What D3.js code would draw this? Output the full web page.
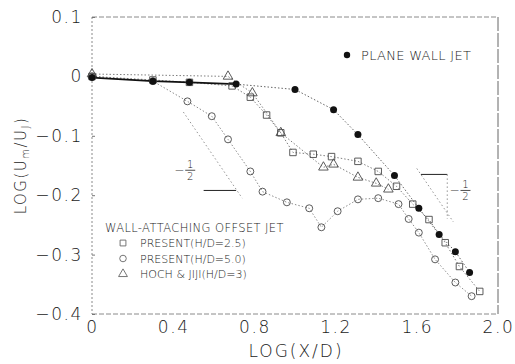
<!DOCTYPE html>
<html>
<head>
<meta charset="utf-8">
<script src="https://cdn.jsdelivr.net/npm/d3@7/dist/d3.min.js"></script>
<style>
  html, body { margin: 0; padding: 0; background: #fff; }
  svg { display: block; }
  text { font-family: "DejaVu Sans", sans-serif; fill: #1a1a1a; }
</style>
</head>
<body>
<svg id="chart" width="515" height="364"></svg>
<script>
// Centreline velocity decay, log-log coordinates
const xTicks = [0, 0.4, 0.8, 1.2, 1.6, 2.0];
const yTicks = [0.1, 0, -0.1, -0.2, -0.3, -0.4];

// Plane wall jet (filled circles)
const planeX = [0, 0.30, 0.48, 0.71, 1.00, 1.19, 1.31, 1.49, 1.61, 1.71, 1.79, 1.86];
const planeY = [-0.002, -0.008, -0.010, -0.013, -0.022, -0.056, -0.098, -0.167, -0.222, -0.266, -0.295, -0.330];

// Wall-attaching offset jet, present data H/D = 2.5 (squares)
const h25X = [0, 0.30, 0.48, 0.69, 0.78, 0.86, 0.93, 0.99, 1.09, 1.18, 1.31, 1.41, 1.50, 1.58, 1.66, 1.74, 1.81, 1.91];
const h25Y = [0, -0.006, -0.010, -0.016, -0.035, -0.065, -0.095, -0.128, -0.131, -0.135, -0.143, -0.160, -0.185, -0.215, -0.241, -0.280, -0.320, -0.362];

// Present data H/D = 5.0 (circles)
const h50X = [0, 0.30, 0.47, 0.59, 0.67, 0.78, 0.84, 0.96, 1.07, 1.13, 1.21, 1.31, 1.41, 1.51, 1.56, 1.61, 1.69, 1.79, 1.87];
const h50Y = [0, -0.008, -0.042, -0.067, -0.106, -0.160, -0.194, -0.212, -0.222, -0.254, -0.227, -0.207, -0.205, -0.215, -0.240, -0.263, -0.308, -0.347, -0.370];

// Hoch & Jiji, H/D = 3 (triangles)
const hjX = [0, 0.67, 0.79, 0.93, 1.14, 1.19, 1.31, 1.40, 1.46];
const hjY = [0.004, 0.0, -0.028, -0.095, -0.153, -0.148, -0.170, -0.180, -0.190];

// Slope -1/2 reference triangles (data units)
const slopeLeft = { hyp: [[0.45, -0.06], [0.74, -0.205]], leg: [[0.55, -0.192], [0.71, -0.192]], label: [0.474, -0.158] };
const slopeRight = { hyp: [[1.60, -0.155], [1.78, -0.245]], leg: [[1.62, -0.165], [1.75, -0.165]], vert: [[1.75, -0.165], [1.75, -0.24]], label: [1.83, -0.192] };

const legendItems = ["PRESENT(H/D=2.5)", "PRESENT(H/D=5.0)", "HOCH & JIJI(H/D=3)"];
const legendShapes = [d3.symbolSquare, d3.symbolCircle, d3.symbolTriangle];

const svg = d3.select("#chart");
const x = d3.scaleLinear().domain([0, 2]).range([92, 498]);
const y = d3.scaleLinear().domain([-0.4, 0.1]).range([314, 17]);

const zip = (xs, ys) => xs.map((v, i) => [v, ys[i]]);

// Frame
const frame = svg.append("g").attr("fill", "none");
frame.append("line").attr("x1", x(0)).attr("x2", x(2)).attr("y1", y(0.1)).attr("y2", y(0.1))
  .attr("stroke", "#8a8a8a").attr("stroke-dasharray", "5,2");
frame.append("line").attr("x1", x(0)).attr("x2", x(2)).attr("y1", y(-0.4)).attr("y2", y(-0.4))
  .attr("stroke", "#8a8a8a").attr("stroke-dasharray", "5,2");
frame.append("line").attr("x1", x(0)).attr("x2", x(0)).attr("y1", y(0.1)).attr("y2", y(-0.4))
  .attr("stroke", "#8a8a8a").attr("stroke-dasharray", "2,2");
frame.append("line").attr("x1", x(2)).attr("x2", x(2)).attr("y1", y(0.1)).attr("y2", y(-0.4))
  .attr("stroke", "#666").attr("stroke-dasharray", "14,2");

// Axes
const xAxis = svg.append("g").attr("transform", `translate(0,${y(-0.4)})`)
  .call(d3.axisBottom(x).tickValues(xTicks).tickSize(0).tickPadding(7)
    .tickFormat(d => d === 0 ? "0" : d3.format(".1f")(d)));
const yAxis = svg.append("g").attr("transform", `translate(${x(0)},0)`)
  .call(d3.axisLeft(y).tickValues(yTicks).tickSize(-3).tickPadding(9)
    .tickFormat(d => d === 0 ? "0" : d3.format(".1f")(d).replace("-", "\u2212")));
[xAxis, yAxis].forEach(g => {
  g.select(".domain").remove();
  g.selectAll(".tick line").attr("stroke", "#777");
  g.selectAll(".tick text").attr("font-size", 17).attr("letter-spacing", 1.6)
    .attr("font-family", "DejaVu Sans, sans-serif").attr("font-weight", 200).attr("fill", "#1a1a1a");
});

// Axis titles
svg.append("text").attr("x", 296).attr("y", 357).attr("text-anchor", "middle")
  .attr("font-size", 17).attr("font-weight", 200).attr("letter-spacing", 2).text("LOG(X/D)");
const yt = svg.append("text").attr("transform", `translate(26,${(y(0.1) + y(-0.4)) / 2}) rotate(-90)`)
  .attr("text-anchor", "middle").attr("font-size", 15).attr("font-weight", 200).attr("letter-spacing", 1.5);
yt.append("tspan").text("LOG(U");
yt.append("tspan").attr("font-size", 10).attr("dy", 3).text("m");
yt.append("tspan").attr("dy", -3).text("/U");
yt.append("tspan").attr("font-size", 10).attr("dy", 3).text("J");
yt.append("tspan").attr("dy", -3).text(")");

// Connecting lines
const line = d3.line().x(d => x(d[0])).y(d => y(d[1]));
const dotted = (pts, color) => svg.append("path").datum(pts).attr("d", line)
  .attr("fill", "none").attr("stroke", color).attr("stroke-width", 0.9).attr("stroke-dasharray", "1.5,2");

dotted(zip(h25X, h25Y), "#707070");
dotted(zip(h50X, h50Y), "#808080");
dotted(zip(hjX, hjY), "#707070");
const plane = zip(planeX, planeY);
svg.append("path").datum(plane.slice(0, 4)).attr("d", line)
  .attr("fill", "none").attr("stroke", "#111").attr("stroke-width", 1.6);
dotted(plane.slice(3), "#555");

// Slope annotations
function slopeMark(s) {
  svg.append("path").datum(s.hyp).attr("d", line).attr("fill", "none")
    .attr("stroke", "#888").attr("stroke-width", 0.9).attr("stroke-dasharray", "1.5,2.5");
  svg.append("path").datum(s.leg).attr("d", line).attr("fill", "none")
    .attr("stroke", "#222").attr("stroke-width", 1);
  if (s.vert) svg.append("path").datum(s.vert).attr("d", line).attr("fill", "none")
    .attr("stroke", "#888").attr("stroke-width", 0.9).attr("stroke-dasharray", "1.5,2.5");
  const lx = x(s.label[0]), ly = y(s.label[1]);
  svg.append("text").attr("x", lx - 9).attr("y", ly + 4).attr("font-size", 12)
    .attr("font-weight", 200).attr("text-anchor", "middle").text("\u2212");
  svg.append("text").attr("x", lx + 2).attr("y", ly - 2).attr("font-size", 10)
    .attr("font-weight", 200).attr("text-anchor", "middle").text("1");
  svg.append("line").attr("x1", lx - 3).attr("x2", lx + 7).attr("y1", ly).attr("y2", ly)
    .attr("stroke", "#222").attr("stroke-width", 0.8);
  svg.append("text").attr("x", lx + 2).attr("y", ly + 10).attr("font-size", 10)
    .attr("font-weight", 200).attr("text-anchor", "middle").text("2");
}
slopeMark(slopeLeft);
slopeMark(slopeRight);

// Markers
const sym = (shape, size) => d3.symbol().type(shape).size(size)();
function openMarks(xs, ys, shape, size) {
  const g = svg.append("g");
  zip(xs, ys).forEach(d => {
    g.append("path").attr("d", sym(shape, size))
      .attr("transform", `translate(${x(d[0])},${y(d[1])})`)
      .attr("fill", "none").attr("stroke", "#4a4a4a").attr("stroke-width", 0.9);
  });
}
openMarks(h25X, h25Y, d3.symbolSquare, 42);
openMarks(h50X, h50Y, d3.symbolCircle, 38);
openMarks(hjX, hjY, d3.symbolTriangle, 40);

svg.append("g").selectAll("circle").data(plane).join("circle")
  .attr("cx", d => x(d[0])).attr("cy", d => y(d[1])).attr("r", 3.5).attr("fill", "#111");

// Plane wall jet key
svg.append("circle").attr("cx", 347).attr("cy", 55).attr("r", 3.2).attr("fill", "#111");
svg.append("text").attr("x", 361).attr("y", 60).attr("font-size", 13).attr("font-weight", 200)
  .attr("letter-spacing", 0.3).text("PLANE WALL JET");

// Offset jet key
svg.append("text").attr("x", 105).attr("y", 232).attr("font-size", 11.5).attr("font-weight", 200)
  .attr("letter-spacing", 0.4).text("WALL-ATTACHING OFFSET JET");
legendItems.forEach((t, i) => {
  const ly = 243 + i * 15.5;
  svg.append("path").attr("d", sym(legendShapes[i], 34)).attr("transform", `translate(123,${ly})`)
    .attr("fill", "none").attr("stroke", "#666").attr("stroke-width", 0.9);
  svg.append("text").attr("x", 140).attr("y", ly + 4).attr("font-size", 11).attr("font-weight", 200).text(t);
});
</script>
</body>
</html>
